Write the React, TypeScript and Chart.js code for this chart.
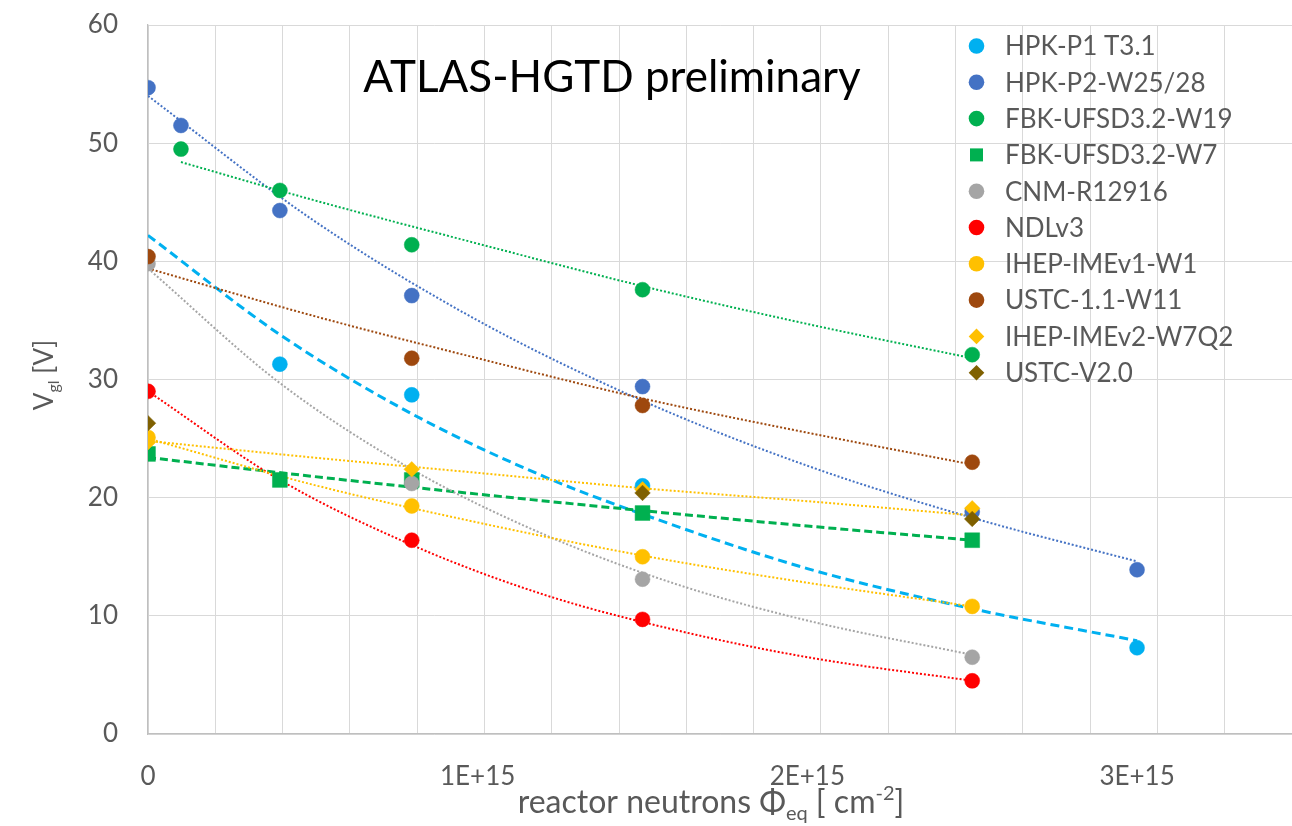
import React, { useEffect, useRef } from 'react';
import { Chart, registerables } from 'chart.js';

Chart.register(...registerables);

const UNIT = 1e15; // fluence unit: 1E+15 n/cm²
const FONT = 'Lato, "Open Sans", sans-serif';
const TEXT_GREY = '#595959';

const chartTitle = 'ATLAS-HGTD preliminary';

// ---- measured points (fluence in 1E15 cm^-2, V_gl in V) ----
const hpkP1Fluence = [0.4, 0.8, 1.5, 3.0];
const hpkP1Vgl = [31.3, 28.7, 21.0, 7.3];
const hpkP2Fluence = [0, 0.1, 0.4, 0.8, 1.5, 2.5, 3.0];
const hpkP2Vgl = [54.7, 51.5, 44.3, 37.1, 29.4, 18.8, 13.9];
const fbkW19Fluence = [0.1, 0.4, 0.8, 1.5, 2.5];
const fbkW19Vgl = [49.5, 46.0, 41.4, 37.6, 32.1];
const fbkW7Fluence = [0, 0.4, 0.8, 1.5, 2.5];
const fbkW7Vgl = [23.7, 21.5, 21.5, 18.7, 16.4];
const cnmFluence = [0, 0.8, 1.5, 2.5];
const cnmVgl = [39.8, 21.2, 13.1, 6.5];
const ndlFluence = [0, 0.8, 1.5, 2.5];
const ndlVgl = [29.0, 16.4, 9.7, 4.5];
const ihepV1Fluence = [0, 0.8, 1.5, 2.5];
const ihepV1Vgl = [25.1, 19.3, 15.0, 10.8];
const ustc11Fluence = [0, 0.8, 1.5, 2.5];
const ustc11Vgl = [40.4, 31.8, 27.8, 23.0];
const ihepV2Fluence = [0, 0.8, 1.5, 2.5];
const ihepV2Vgl = [24.7, 22.4, 20.7, 19.1];
const ustcV2Fluence = [0, 1.5, 2.5];
const ustcV2Vgl = [26.3, 20.4, 18.2];

// ---- trend lines ----
const trendHpkP1Fluence = [0, 0.4, 0.8, 1.2, 1.5, 2.0, 2.5, 3.0];
const trendHpkP1Vgl = [42.2, 33.8, 27.1, 21.8, 18.6, 14.0, 10.6, 7.9];
const trendHpkP2Fluence = [0, 0.5, 1.0, 1.5, 2.0, 2.5, 3.0];
const trendHpkP2Vgl = [54.0, 43.5, 35.0, 28.2, 22.7, 18.3, 14.6];
const trendFbkW19Fluence = [0.1, 0.5, 1.0, 1.5, 2.0, 2.5];
const trendFbkW19Vgl = [48.4, 45.2, 41.5, 37.9, 34.7, 31.8];
const trendFbkW7Fluence = [0, 0.5, 1.0, 1.5, 2.0, 2.5];
const trendFbkW7Vgl = [23.4, 21.8, 20.3, 18.9, 17.6, 16.4];
const trendCnmFluence = [0, 0.4, 0.8, 1.2, 1.6, 2.0, 2.5];
const trendCnmVgl = [39.4, 29.7, 22.4, 16.9, 12.7, 9.6, 6.7];
const trendNdlFluence = [0, 0.4, 0.8, 1.2, 1.6, 2.0, 2.5];
const trendNdlVgl = [29.0, 21.5, 16.0, 11.8, 8.8, 6.5, 4.5];
const trendIhepV1Fluence = [0, 0.5, 1.0, 1.5, 2.0, 2.5];
const trendIhepV1Vgl = [25.0, 21.1, 17.9, 15.1, 12.8, 10.8];
const trendUstc11Fluence = [0, 0.5, 1.0, 1.5, 2.0, 2.5];
const trendUstc11Vgl = [39.4, 35.4, 31.8, 28.4, 25.5, 22.8];
const trendIhepV2Fluence = [0, 0.5, 1.0, 1.5, 2.0, 2.5];
const trendIhepV2Vgl = [24.8, 23.4, 22.1, 20.8, 19.7, 18.5];

// axis ticks
const xTickValues = [0, 1, 2, 3];
const xTickLabels = ['0', '1E+15', '2E+15', '3E+15'];

type Series = { label: string; x: number[]; y: number[]; color: string; shape: string; r: number };

const series: Series[] = [
  { label: 'HPK-P1 T3.1', x: hpkP1Fluence, y: hpkP1Vgl, color: '#00B0F0', shape: 'circle', r: 7.5 },
  { label: 'HPK-P2-W25/28', x: hpkP2Fluence, y: hpkP2Vgl, color: '#4472C4', shape: 'circle', r: 7.5 },
  { label: 'FBK-UFSD3.2-W19', x: fbkW19Fluence, y: fbkW19Vgl, color: '#00B050', shape: 'circle', r: 7.5 },
  { label: 'FBK-UFSD3.2-W7', x: fbkW7Fluence, y: fbkW7Vgl, color: '#00B050', shape: 'rect', r: 10.5 },
  { label: 'CNM-R12916', x: cnmFluence, y: cnmVgl, color: '#A5A5A5', shape: 'circle', r: 7.5 },
  { label: 'NDLv3', x: ndlFluence, y: ndlVgl, color: '#FF0000', shape: 'circle', r: 7.5 },
  { label: 'IHEP-IMEv1-W1', x: ihepV1Fluence, y: ihepV1Vgl, color: '#FFC000', shape: 'circle', r: 7.5 },
  { label: 'USTC-1.1-W11', x: ustc11Fluence, y: ustc11Vgl, color: '#9E480E', shape: 'circle', r: 7.5 },
  { label: 'IHEP-IMEv2-W7Q2', x: ihepV2Fluence, y: ihepV2Vgl, color: '#FFC000', shape: 'rectRot', r: 7.8 },
  { label: 'USTC-V2.0', x: ustcV2Fluence, y: ustcV2Vgl, color: '#7F6000', shape: 'rectRot', r: 7.8 },
];

const trends = [
  { x: trendHpkP1Fluence, y: trendHpkP1Vgl, color: '#00B0F0', dash: [9, 5], width: 3 },
  { x: trendHpkP2Fluence, y: trendHpkP2Vgl, color: '#4472C4', dash: [2, 2], width: 2 },
  { x: trendFbkW19Fluence, y: trendFbkW19Vgl, color: '#00B050', dash: [2, 2], width: 2 },
  { x: trendFbkW7Fluence, y: trendFbkW7Vgl, color: '#00B050', dash: [8, 4], width: 3 },
  { x: trendCnmFluence, y: trendCnmVgl, color: '#A5A5A5', dash: [2, 2], width: 2 },
  { x: trendNdlFluence, y: trendNdlVgl, color: '#FF0000', dash: [2, 2], width: 2 },
  { x: trendIhepV1Fluence, y: trendIhepV1Vgl, color: '#FFC000', dash: [2, 2], width: 2 },
  { x: trendUstc11Fluence, y: trendUstc11Vgl, color: '#9E480E', dash: [2, 2], width: 2 },
  { x: trendIhepV2Fluence, y: trendIhepV2Vgl, color: '#FFC000', dash: [2, 2], width: 2 },
];

type Part = { t: string; size: number; dy: number };

function drawRich(ctx: CanvasRenderingContext2D, parts: Part[], cx: number, baseline: number) {
  let total = 0;
  for (const p of parts) {
    ctx.font = `${p.size}px ${FONT}`;
    total += ctx.measureText(p.t).width;
  }
  let x = cx - total / 2;
  ctx.textAlign = 'left';
  ctx.textBaseline = 'alphabetic';
  for (const p of parts) {
    ctx.font = `${p.size}px ${FONT}`;
    ctx.fillText(p.t, x, baseline + p.dy);
    x += ctx.measureText(p.t).width;
  }
}

function drawMarker(ctx: CanvasRenderingContext2D, shape: string, x: number, y: number, r: number, color: string) {
  ctx.fillStyle = color;
  ctx.beginPath();
  if (shape === 'circle') {
    ctx.arc(x, y, r, 0, Math.PI * 2);
  } else if (shape === 'rect') {
    const s = r * Math.SQRT1_2;
    ctx.rect(x - s, y - s, 2 * s, 2 * s);
  } else {
    ctx.moveTo(x, y - r);
    ctx.lineTo(x + r, y);
    ctx.lineTo(x, y + r);
    ctx.lineTo(x - r, y);
    ctx.closePath();
  }
  ctx.fill();
}

const overlayPlugin = {
  id: 'overlayText',
  afterDraw(chart: any) {
    const ctx: CanvasRenderingContext2D = chart.ctx;
    const xs = chart.scales.x;
    ctx.save();

    // x tick labels (only at whole 1E+15 steps, gridlines every 2E+14)
    ctx.fillStyle = TEXT_GREY;
    ctx.font = `26px ${FONT}`;
    ctx.textAlign = 'center';
    ctx.textBaseline = 'middle';
    xTickValues.forEach((v, i) => {
      ctx.fillText(xTickLabels[i], xs.getPixelForValue(v * UNIT), 777);
    });

    // chart title
    ctx.fillStyle = '#000000';
    drawRich(ctx, [{ t: chartTitle, size: 44, dy: 0 }], 612, 92);

    // x axis title
    ctx.fillStyle = TEXT_GREY;
    drawRich(
      ctx,
      [
        { t: 'reactor neutrons Φ', size: 32, dy: 0 },
        { t: 'eq', size: 20, dy: 7 },
        { t: ' [ cm', size: 32, dy: 0 },
        { t: '-2', size: 20, dy: -13 },
        { t: ']', size: 32, dy: 0 },
      ],
      711,
      813
    );

    // y axis title (rotated)
    ctx.save();
    ctx.translate(53, 375);
    ctx.rotate(-Math.PI / 2);
    drawRich(
      ctx,
      [
        { t: 'V', size: 26, dy: 0 },
        { t: 'gl', size: 16, dy: 6 },
        { t: ' [V]', size: 26, dy: 0 },
      ],
      0,
      0
    );
    ctx.restore();

    // legend
    const lx = 976.5;
    const tx = 1005;
    series.forEach((s, i) => {
      const y = 46 + i * 36.3;
      const legendR = s.shape === 'rect' ? 9.2 : 7.8;
      drawMarker(ctx, s.shape, lx, y, legendR, s.color);
      ctx.fillStyle = TEXT_GREY;
      ctx.font = `26px ${FONT}`;
      ctx.textAlign = 'left';
      ctx.textBaseline = 'middle';
      ctx.fillText(s.label, tx, y + 1);
    });
    ctx.restore();
  },
};

export default function App() {
  const canvasRef = useRef<HTMLCanvasElement | null>(null);

  useEffect(() => {
    document.body.style.margin = '0';
    const canvas = canvasRef.current;
    if (!canvas) return;

    const trendSets = trends.map((t, i) => ({
      label: `trend-${i}`,
      data: t.x.map((xv, j) => ({ x: xv * UNIT, y: t.y[j] })),
      showLine: true,
      borderColor: t.color,
      borderWidth: t.width,
      borderDash: t.dash,
      pointRadius: 0,
      fill: false,
      cubicInterpolationMode: 'monotone',
      order: 200 - i,
    }));

    const pointSets = series.map((s, i) => ({
      label: s.label,
      data: s.x.map((xv, j) => ({ x: xv * UNIT, y: s.y[j] })),
      showLine: false,
      pointStyle: s.shape,
      pointRadius: s.r,
      backgroundColor: s.color,
      borderColor: s.color,
      borderWidth: 0.5,
      order: 100 - i,
    }));

    const chart = new Chart(canvas, {
      type: 'scatter',
      data: { datasets: [...trendSets, ...pointSets] as any },
      options: {
        animation: false,
        responsive: false,
        maintainAspectRatio: false,
        events: [],
        layout: { autoPadding: false, padding: { top: 25, left: 0, right: 0, bottom: 0 } },
        plugins: {
          legend: { display: false },
          tooltip: { enabled: false },
          title: { display: false },
        },
        scales: {
          x: {
            type: 'linear',
            bounds: 'data',
            min: 0,
            max: 3.47 * UNIT,
            afterFit: (scale: any) => {
              scale.height = 92;
              scale.paddingRight = 0;
              scale.paddingLeft = 0;
            },
            grid: { color: '#D9D9D9', lineWidth: 1, drawTicks: false },
            border: { color: '#BFBFBF', width: 1.3 },
            ticks: {
              stepSize: 0.2 * UNIT,
              includeBounds: false,
              autoSkip: false,
              maxRotation: 0,
              padding: 0,
              display: false,
            },
          },
          y: {
            type: 'linear',
            min: 0,
            max: 60,
            afterFit: (scale: any) => {
              scale.width = 148;
              scale.paddingTop = 0;
              scale.paddingBottom = 0;
            },
            grid: { color: '#D9D9D9', lineWidth: 1, drawTicks: true, tickLength: 30, tickColor: 'rgba(0,0,0,0)' },
            border: { color: '#BFBFBF', width: 1.3 },
            ticks: {
              stepSize: 10,
              padding: 0,
              color: TEXT_GREY,
              font: { family: FONT, size: 26 },
            },
          },
        },
      },
      plugins: [overlayPlugin],
    });

    return () => chart.destroy();
  }, []);

  return (
    <div style={{ width: 1292, height: 826, background: '#fff' }}>
      <canvas ref={canvasRef} width={1292} height={826} style={{ display: 'block' }} />
    </div>
  );
}
